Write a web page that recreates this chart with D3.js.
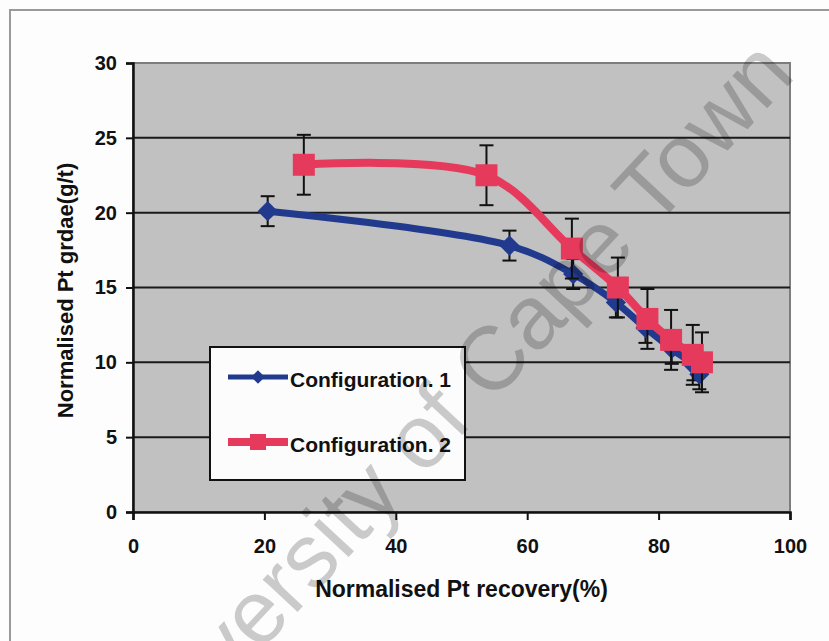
<!DOCTYPE html>
<html lang="en">
<head>
<meta charset="UTF-8">
<title>Normalised Pt grade vs recovery</title>
<script src="https://d3js.org/d3.v7.min.js"></script>
<style>
  html, body { margin: 0; padding: 0; background: #fdfdfd; }
  svg { display: block; }
  text { font-family: "Liberation Sans", Arial, sans-serif; font-weight: bold; fill: #111; }
</style>
</head>
<body>
<svg id="chart" width="829" height="641"></svg>
<script>
// data
const xTicks = [0, 20, 40, 60, 80, 100]
const yTicks = [0, 5, 10, 15, 20, 25, 30]

const seriesNames = ['Configuration. 1', 'Configuration. 2']

// Configuration 1 (blue diamonds)
const rec1 = [20.5, 57.3, 67.0, 73.5, 78.0, 82.0, 85.3, 86.2]
const grade1 = [20.1, 17.8, 15.9, 14.0, 12.3, 10.9, 9.8, 9.2]
const err1 = [1.0, 1.0, 1.0, 1.0, 1.0, 1.0, 1.0, 1.0]

// Configuration 2 (red squares)
const rec2 = [26.0, 53.8, 66.8, 73.8, 78.3, 81.9, 85.2, 86.6]
const grade2 = [23.2, 22.5, 17.6, 15.0, 12.9, 11.5, 10.5, 10.0]
const err2 = [2.0, 2.0, 2.0, 2.0, 2.0, 2.0, 2.0, 2.0]

let svg = d3.select('#chart')

// outer frame (only top and left edges show on the page)
svg.append('path')
    .attr('d', 'M10,641 L10,10 L829,10')
    .attr('fill', 'none')
    .attr('stroke', '#9a9a9a')
    .attr('stroke-width', 2)

let plot = { left: 133, right: 790, top: 63, bottom: 512 }

let x = d3.scaleLinear().domain([0, 100]).range([plot.left, plot.right])
let y = d3.scaleLinear().domain([0, 30]).range([plot.bottom, plot.top])

// plot background
svg.append('rect')
    .attr('x', plot.left).attr('y', plot.top)
    .attr('width', plot.right - plot.left)
    .attr('height', plot.bottom - plot.top)
    .attr('fill', '#c1c1c1')
    .attr('stroke', '#7d7d7d')
    .attr('stroke-width', 2)

// gridlines
svg.append('g')
    .selectAll('line')
    .data(yTicks.filter(d => d > 0 && d < 30))
    .enter()
    .append('line')
    .attr('x1', plot.left).attr('x2', plot.right)
    .attr('y1', d => y(d)).attr('y2', d => y(d))
    .attr('stroke', '#1a1a1a')
    .attr('stroke-width', 2)

// axes
let yAxis = svg.append('g')
    .attr('transform', 'translate(' + plot.left + ',0)')
    .call(d3.axisLeft(y).tickValues(yTicks).tickSize(7).tickPadding(9))
let xAxis = svg.append('g')
    .attr('transform', 'translate(0,' + plot.bottom + ')')
    .call(d3.axisBottom(x).tickValues(xTicks).tickSize(8).tickPadding(14))

;[xAxis, yAxis].forEach(a => {
    a.select('.domain').attr('stroke', '#111').attr('stroke-width', 2.5)
    a.selectAll('.tick line').attr('stroke', '#111').attr('stroke-width', 2)
    a.selectAll('.tick text')
        .style('font-size', '20px')
        .style('font-weight', 'bold')
        .style('font-family', '"Liberation Sans", Arial, sans-serif')
        .attr('fill', '#111')
})
xAxis.selectAll('.tick text').attr('dy', '0.95em')

// axis titles
svg.append('text')
    .attr('x', (plot.left + plot.right) / 2)
    .attr('y', 597)
    .attr('text-anchor', 'middle')
    .style('font-size', '23px')
    .text('Normalised Pt recovery(%)')

svg.append('text')
    .attr('transform', 'translate(73,' + ((plot.top + plot.bottom) / 2 + 3) + ') rotate(-90)')
    .attr('text-anchor', 'middle')
    .style('font-size', '22px')
    .text('Normalised Pt grdae(g/t)')

// series
let blue = '#213a8e'
let red = '#e63a5d'

let line = d3.line()
    .x(d => x(d[0]))
    .y(d => y(d[1]))
    .curve(d3.curveCatmullRom.alpha(0.5))

let drawErrors = (xs, ys, es) => {
    let g = svg.append('g').attr('stroke', '#111').attr('stroke-width', 2)
    xs.forEach((xv, i) => {
        let cx = x(xv)
        let top = y(ys[i] + es[i])
        let bot = y(ys[i] - es[i])
        g.append('line').attr('x1', cx).attr('x2', cx).attr('y1', top).attr('y2', bot)
        g.append('line').attr('x1', cx - 7).attr('x2', cx + 7).attr('y1', top).attr('y2', top)
        g.append('line').attr('x1', cx - 7).attr('x2', cx + 7).attr('y1', bot).attr('y2', bot)
    })
}

let pts1 = rec1.map((v, i) => [v, grade1[i]])
let pts2 = rec2.map((v, i) => [v, grade2[i]])

drawErrors(rec1, grade1, err1)
svg.append('path')
    .attr('d', line(pts1))
    .attr('fill', 'none')
    .attr('stroke', blue)
    .attr('stroke-width', 7)
svg.append('g')
    .selectAll('path')
    .data(pts1)
    .enter()
    .append('path')
    .attr('d', d3.symbol().type(d3.symbolDiamond2).size(260))
    .attr('transform', d => 'translate(' + x(d[0]) + ',' + y(d[1]) + ')')
    .attr('fill', blue)

drawErrors(rec2, grade2, err2)
svg.append('path')
    .attr('d', line(pts2))
    .attr('fill', 'none')
    .attr('stroke', red)
    .attr('stroke-width', 8)
svg.append('g')
    .selectAll('rect')
    .data(pts2)
    .enter()
    .append('rect')
    .attr('x', d => x(d[0]) - 11)
    .attr('y', d => y(d[1]) - 11)
    .attr('width', 22).attr('height', 22)
    .attr('fill', red)

// legend
let legend = svg.append('g')
legend.append('rect')
    .attr('x', 210).attr('y', 347)
    .attr('width', 255).attr('height', 133)
    .attr('fill', '#fcfcfc')
    .attr('stroke', '#111')
    .attr('stroke-width', 2)

let legendRows = [
    { name: seriesNames[0], color: blue, width: 5, y: 377 },
    { name: seriesNames[1], color: red, width: 8, y: 442 }
]
legendRows.forEach((r, i) => {
    legend.append('line')
        .attr('x1', 228).attr('x2', 288)
        .attr('y1', r.y).attr('y2', r.y)
        .attr('stroke', r.color)
        .attr('stroke-width', r.width)
    if (i === 0) {
        legend.append('path')
            .attr('d', d3.symbol().type(d3.symbolDiamond2).size(120))
            .attr('transform', 'translate(258,' + r.y + ')')
            .attr('fill', r.color)
    } else {
        legend.append('rect')
            .attr('x', 250).attr('y', r.y - 8)
            .attr('width', 16).attr('height', 16)
            .attr('fill', r.color)
    }
    legend.append('text')
        .attr('x', 290)
        .attr('y', r.y + 10)
        .style('font-size', '21px')
        .text(r.name)
})

// watermark of the scanned thesis page
svg.append('text')
    .attr('transform', 'translate(447,412) rotate(-47)')
    .attr('text-anchor', 'middle')
    .attr('dy', '0.3em')
    .style('font-size', '90px')
    .style('font-weight', 'normal')
    .style('fill', '#000')
    .style('fill-opacity', 0.2)
    .text('University of Cape Town')
</script>
</body>
</html>
